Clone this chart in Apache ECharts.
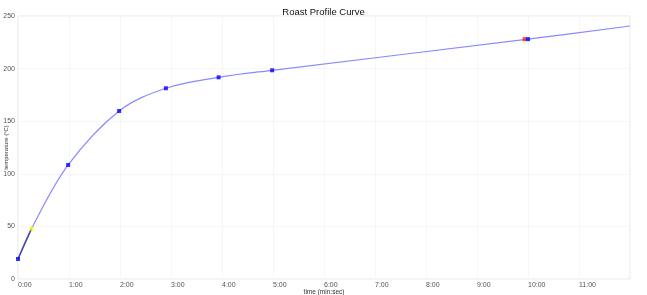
<!DOCTYPE html>
<html>
<head>
<meta charset="utf-8">
<script src="https://cdn.jsdelivr.net/npm/echarts@6/dist/echarts.min.js"></script>
<style>
html,body{margin:0;padding:0;background:#fff;}
#c{width:647px;height:295px;}
</style>
</head>
<body>
<div id="c"></div>
<script>
// Data (time in seconds, temperature in °C)
var curveTimes = [0, 16, 59, 119, 174, 236, 299, 600, 720];
var curveTemps = [19, 48, 108.4, 159.7, 181.3, 191.7, 198.4, 228, 240.5];
var startTimes = [0, 16];
var startTemps = [19, 48];
var blueTimes = [0, 59, 119, 174, 236, 299, 600];
var blueTemps = [19, 108.4, 159.7, 181.3, 191.7, 198.4, 228];
var yellowTimes = [16];
var yellowTemps = [48];
var redTimes = [596];
var redTemps = [228];
var yTicks = [0, 50, 100, 150, 200, 250];

function zip(a, b) { return a.map(function (v, i) { return [v, b[i]]; }); }
function fmt(s) { var m = Math.floor(s / 60), r = Math.round(s % 60); return m + ':' + (r < 10 ? '0' : '') + r; }

var chart = echarts.init(document.getElementById('c'), null, {renderer: 'canvas'});
var lbl = {color: '#555', fontSize: 7, fontFamily: 'Liberation Sans, Arial, sans-serif'};
chart.setOption({
  animation: false,
  backgroundColor: '#fff',
  title: {
    text: 'Roast Profile Curve', left: 'center', top: 2,
    textStyle: {fontSize: 9.5, fontWeight: 'normal', color: '#111', fontFamily: 'Liberation Sans, Arial, sans-serif'}
  },
  grid: {left: 18, right: 17, top: 16, bottom: 16, show: true, borderColor: '#e6e6e6', borderWidth: 1, containLabel: false, outerBoundsMode: 'none'},
  xAxis: {
    type: 'value', min: 0, max: 720, interval: 60,
    name: 'time (min:sec)', nameLocation: 'middle', nameGap: 10, nameMoveOverlap: false,
    nameTextStyle: {color: '#333', fontSize: 6.5, fontFamily: 'Liberation Sans, Arial, sans-serif'},
    axisLine: {show: false}, axisTick: {show: false},
    splitLine: {show: true, lineStyle: {color: '#f6f6f6', width: 1}},
    axisLabel: Object.assign({formatter: function (v) { return v >= 720 ? '' : fmt(v); }, align: 'left', margin: 3, showMaxLabel: false}, lbl)
  },
  yAxis: {
    type: 'value', min: yTicks[0], max: yTicks[yTicks.length - 1], interval: 50,
    name: 'temperature (°C)', nameLocation: 'middle', nameGap: 9, nameMoveOverlap: false,
    nameTextStyle: {color: '#333', fontSize: 6, fontFamily: 'Liberation Sans, Arial, sans-serif'},
    axisLine: {show: false}, axisTick: {show: false},
    splitLine: {show: true, lineStyle: {color: '#f6f6f6', width: 1}},
    axisLabel: Object.assign({margin: 3}, lbl)
  },
  series: [
    {
      type: 'line', data: zip(curveTimes, curveTemps), smooth: 0.35,
      showSymbol: false, lineStyle: {color: '#8a8aff', width: 1.2}, z: 2
    },
    {
      type: 'line', data: zip(startTimes, startTemps), smooth: false,
      showSymbol: false, lineStyle: {color: '#47479a', width: 1.5}, z: 3
    },
    {
      type: 'scatter', data: zip(blueTimes, blueTemps), symbol: 'rect', symbolSize: 4,
      itemStyle: {color: '#0000ff'}, z: 5
    },
    {
      type: 'scatter', data: zip(yellowTimes, yellowTemps), symbol: 'rect', symbolSize: 4,
      itemStyle: {color: '#ffff00'}, z: 5
    },
    {
      type: 'scatter', data: zip(redTimes, redTemps), symbol: 'rect', symbolSize: 4,
      itemStyle: {color: '#ff2020'}, z: 4
    }
  ]
});
</script>
</body>
</html>
